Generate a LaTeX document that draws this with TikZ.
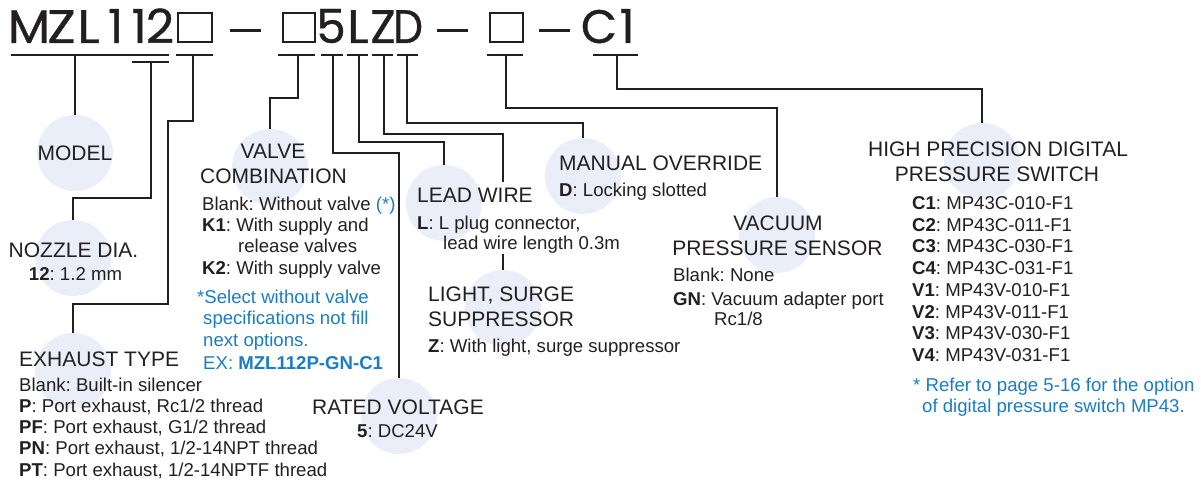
\documentclass[tikz,border=0pt]{standalone}
\usepackage{fontspec}
\setmainfont{Liberation Sans}
\newfontfamily\titlefont[FakeBold=0.7]{Poppins}
\newcommand\ttlglyph[2]{\scalebox{#1}[1]{#2}}
\frenchspacing
\definecolor{ink}{RGB}{35,31,32}
\definecolor{note}{RGB}{26,125,195}
\definecolor{bubble}{RGB}{233,238,248}
\begin{document}
\begin{tikzpicture}[x=1pt,y=-1pt,
  bub/.style={circle,fill=bubble,minimum size=76pt,inner sep=0pt},
  conn/.style={draw=ink,line width=1.3pt},
  ul/.style={draw=ink,line width=1.3pt},
  head/.style={inner sep=0pt,text=ink,font=\fontsize{21}{21}\selectfont},
  body/.style={inner sep=0pt,text=ink,font=\fontsize{18.6}{18.6}\selectfont},
  bluetxt/.style={inner sep=0pt,text=note,font=\fontsize{18.6}{18.6}\selectfont},
  ttl/.style={inner sep=0pt,text=ink,anchor=base,font=\titlefont\fontsize{47}{47}\selectfont},
  tbox/.style={draw=ink,line width=2pt,inner sep=0pt,minimum height=29pt},
  tdash/.style={fill=ink,inner sep=0pt,minimum width=31pt,minimum height=3pt},
]
\useasboundingbox (0,0) rectangle (1201,481);

% bubbles
\node[bub] (bmodel) at (75,153) {};
\node[bub] (bnozzle) at (73,258) {};
\node[bub] (bexh) at (73,371) {};
\node[bub] (bvalve) at (270,167) {};
\node[bub] (blead) at (444,203) {};
\node[bub] (bmanual) at (583,176) {};
\node[bub] (blight) at (503,308) {};
\node[bub] (brated) at (399,416) {};
\node[bub] (bvac) at (777,235) {};
\node[bub] (bhigh) at (982,161) {};

% title
\node[ttl] (tM) at (29,43) {\ttlglyph{1.05}{M}};
\node[ttl] (tZ) at (61.5,43) {\ttlglyph{1.12}{Z}};
\node[ttl] (tL) at (88.5,43) {\ttlglyph{1.1}{L}};
\node[ttl] (t1a) at (115.5,43) {1};
\node[ttl] (t1b) at (139,43) {1};
\node[ttl] (t2) at (160,43) {\ttlglyph{1.05}{2}};
\node[tbox,minimum width=34pt,anchor=south west] (box1) at (177,43) {};
\node[tdash] (dash1) at (245.5,31) {};
\node[tbox,minimum width=32pt,anchor=south west] (box2) at (282,43) {};
\node[ttl] (t5) at (331,43) {5};
\node[ttl] (tL2) at (358,43) {\ttlglyph{1.05}{L}};
\node[ttl] (tZ2) at (383,43) {Z};
\node[ttl] (tD) at (408,43) {\ttlglyph{0.9}{D}};
\node[tdash] (dash2) at (452.5,31) {};
\node[tbox,minimum width=33pt,anchor=south west] (box3) at (489,43) {};
\node[tdash] (dash3) at (554.5,31) {};
\node[ttl] (tC) at (599,43) {C};
\node[ttl] (t1c) at (627,43) {1};

% underlines
\draw[ul] (11,55) -- (169,55);
\draw[ul] (132,62) -- (169,62);
\draw[ul] (176,55) -- (213,55);
\draw[ul] (278,55) -- (315,55);
\draw[ul] (321,55) -- (343,55);
\draw[ul] (347,55) -- (368,55);
\draw[ul] (372,55) -- (393,55);
\draw[ul] (397,55) -- (418,55);
\draw[ul] (487,55) -- (523,55);
\draw[ul] (593,55) -- (638,55);

\coordinate (s1) at (75,55);
\coordinate (s2) at (151,62);
\coordinate (s3) at (193,55);
\coordinate (s4) at (298,55);
\coordinate (s5) at (333,55);
\coordinate (s6) at (359,55);
\coordinate (s7) at (384,55);
\coordinate (s8) at (407,55);
\coordinate (s9) at (506,55);
\coordinate (s10) at (617,55);
\coordinate (k3a) at (168,121);
\coordinate (k3b) at (168,304);
\coordinate (c7end) at (503,182);
\coordinate (c7res) at (503,254);

% connectors
\draw[conn] (s1) -- (bmodel.north);
\draw[conn] (s2) -- ++(0,136) -| (bnozzle.north);
\draw[conn] (s3) |- (k3a) -- (k3b) -| (bexh.north);
\draw[conn] (s4) -- ++(0,43) -| (bvalve.north);
\draw[conn] (s5) -- ++(0,98) -| (brated.north);
\draw[conn] (s6) -- ++(0,87) -| (blead.north);
\draw[conn] (s7) -- ++(0,79) -| (c7end);
\draw[conn] (c7res) -- (blight.north);
\draw[conn] (s8) -- ++(0,68) -| (bmanual.north);
\draw[conn] (s9) -- ++(0,53) -| (bvac.north);
\draw[conn] (s10) -- ++(0,34) -| (bhigh.north);

% MODEL
\node[head,anchor=base] (tmodel) at (75,161) {MODEL};
% NOZZLE
\node[head,anchor=base] (tnoz) at (73.5,257) {NOZZLE DIA.};
\node[body,anchor=base] (tnoz1) at (75.5,280.5) {\textbf{12}: 1.2 mm};
% EXHAUST
\node[head,anchor=base west] (texh) at (19,366) {EXHAUST TYPE};
\node[body,anchor=base west] (texh1) at (19,391.5) {Blank: Built-in silencer};
\node[body,anchor=base west] (texh2) at (19,412.5) {\textbf{P}: Port exhaust, Rc1/2 thread};
\node[body,anchor=base west] (texh3) at (19,433.5) {\textbf{PF}: Port exhaust, G1/2 thread};
\node[body,anchor=base west] (texh4) at (19,454.5) {\textbf{PN}: Port exhaust, 1/2-14NPT thread};
\node[body,anchor=base west] (texh5) at (19,476) {\textbf{PT}: Port exhaust, 1/2-14NPTF thread};
% VALVE
\node[head,anchor=base] (tval) at (273,159) {VALVE};
\node[head,anchor=base] (tval2) at (273.5,184) {COMBINATION};
\node[body,anchor=base west] (tval3) at (202,210.5) {Blank: Without valve \textcolor{note}{(*)}};
\node[body,anchor=base west] (tval4) at (202,231.5) {\textbf{K1}: With supply and};
\node[body,anchor=base west] (tval5) at (238,252.5) {release valves};
\node[body,anchor=base west] (tval6) at (202,274.5) {\textbf{K2}: With supply valve};
\node[bluetxt,anchor=base west] (tnote1) at (197,303.5) {*Select without valve};
\node[bluetxt,anchor=base west] (tnote2) at (203,324.5) {specifications not fill};
\node[bluetxt,anchor=base west] (tnote3) at (203,346.5) {next options.};
\node[bluetxt,anchor=base west] (tnote4) at (203,369.5) {EX: \textbf{MZL112P-GN-C1}};
% RATED
\node[head,anchor=base] (trated) at (398,414) {RATED VOLTAGE};
\node[body,anchor=base] (trated1) at (397.5,437.5) {\textbf{5}: DC24V};
% LEAD
\node[head,anchor=base west] (tlead) at (417,203) {LEAD WIRE};
\node[body,anchor=base west] (tlead1) at (417,229.5) {\textbf{L}: L plug connector,};
\node[body,anchor=base west] (tlead2) at (443,249.5) {lead wire length 0.3m};
% MANUAL
\node[head,anchor=base west] (tman) at (559,171) {MANUAL OVERRIDE};
\node[body,anchor=base west] (tman1) at (559,196.5) {\textbf{D}: Locking slotted};
% LIGHT
\node[head,anchor=base west] (tlight) at (428,301) {LIGHT, SURGE};
\node[head,anchor=base west] (tlight2) at (428,326) {SUPPRESSOR};
\node[body,anchor=base west] (tlight3) at (428,352.5) {\textbf{Z}: With light, surge suppressor};
% VACUUM
\node[head,anchor=base] (tvac) at (778,230) {VACUUM};
\node[head,anchor=base] (tvac2) at (777.5,255) {PRESSURE SENSOR};
\node[body,anchor=base west] (tvac3) at (673,281.5) {Blank: None};
\node[body,anchor=base west] (tvac4) at (673,305.5) {\textbf{GN}: Vacuum adapter port};
\node[body,anchor=base west] (tvac5) at (714,325.5) {Rc1/8};
% HIGH PRECISION
\node[head,anchor=base] (thigh) at (998,157) {HIGH PRECISION DIGITAL};
\node[head,anchor=base] (thigh2) at (997,182) {PRESSURE SWITCH};
\node[body,anchor=base west] (th1) at (912,209.5) {\textbf{C1}: MP43C-010-F1};
\node[body,anchor=base west] (th2) at (912,231.2) {\textbf{C2}: MP43C-011-F1};
\node[body,anchor=base west] (th3) at (912,252.9) {\textbf{C3}: MP43C-030-F1};
\node[body,anchor=base west] (th4) at (912,274.6) {\textbf{C4}: MP43C-031-F1};
\node[body,anchor=base west] (th5) at (912,296.3) {\textbf{V1}: MP43V-010-F1};
\node[body,anchor=base west] (th6) at (912,318) {\textbf{V2}: MP43V-011-F1};
\node[body,anchor=base west] (th7) at (912,339.7) {\textbf{V3}: MP43V-030-F1};
\node[body,anchor=base west] (th8) at (912,361.4) {\textbf{V4}: MP43V-031-F1};
\node[bluetxt,anchor=base west] (thn1) at (913,391.5) {* Refer to page 5-16 for the option};
\node[bluetxt,anchor=base west] (thn2) at (922,412.5) {of digital pressure switch MP43.};
\end{tikzpicture}
\end{document}
